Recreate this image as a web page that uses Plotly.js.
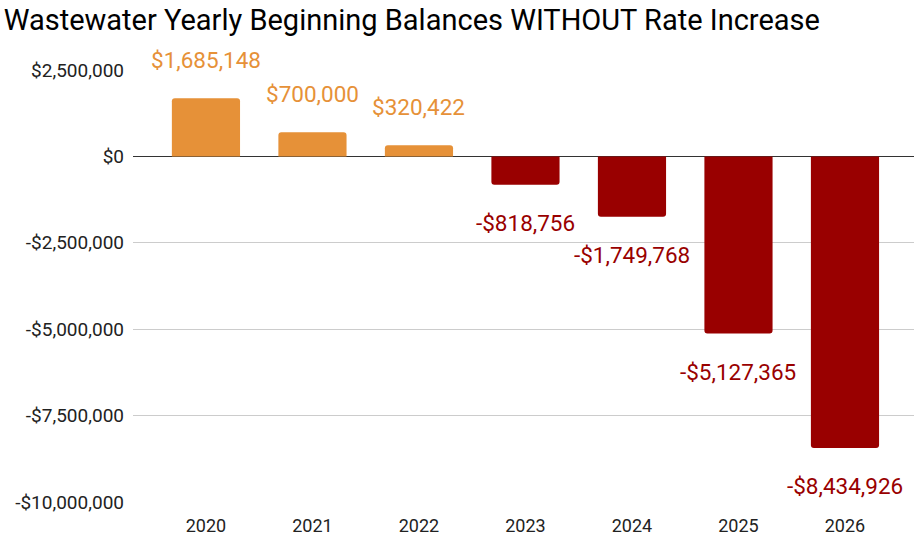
<!DOCTYPE html>
<html>
<head>
<meta charset="utf-8">
<script src="https://cdn.plot.ly/plotly-3.0.1.min.js"></script>
<style>html,body{margin:0;padding:0;background:#fff;}#chart{width:914px;height:541px;}</style>
</head>
<body>
<div id="chart"></div>
<script>
const years = ['2020', '2021', '2022', '2023', '2024', '2025', '2026'];
const balances = [1685148, 700000, 320422, -818756, -1749768, -5127365, -8434926];
const tickValues = [2500000, 0, -2500000, -5000000, -7500000, -10000000];
const tickLabels = ['$2,500,000', '$0', '-$2,500,000', '-$5,000,000', '-$7,500,000', '-$10,000,000'];

const ORANGE = '#e69138';
const RED = '#990000';
const colors = balances.map(v => v >= 0 ? ORANGE : RED);

function fmt(v) {
  const s = Math.abs(v).toString().replace(/\B(?=(\d{3})+(?!\d))/g, ',');
  return (v < 0 ? '-$' : '$') + s;
}

const annotations = years.map((y, i) => ({
  x: i, y: balances[i], xref: 'x', yref: 'y',
  text: fmt(balances[i]), showarrow: false,
  yshift: balances[i] >= 0 ? 38 : -38,
  font: {family: 'Roboto', size: 22.5, color: colors[i]},
  xanchor: 'center', yanchor: 'middle'
}));

const trace = {
  type: 'bar', x: years, y: balances,
  marker: {color: colors, cornerradius: 3},
  width: 0.64, hoverinfo: 'none'
};

const layout = {
  width: 914, height: 541,
  margin: {l: 133, r: 0, t: 70, b: 39},
  paper_bgcolor: '#fff', plot_bgcolor: '#fff',
  title: {text: 'Wastewater Yearly Beginning Balances WITHOUT Rate Increase',
    font: {family: 'Roboto', size: 29, color: '#000'},
    xref: 'container', x: 0.004, xanchor: 'left', yref: 'container', y: 0.963, yanchor: 'middle'},
  xaxis: {type: 'category', range: [-0.685, 6.648], showgrid: false, zeroline: false, showline: false,
    ticks: '', tickfont: {family: 'Roboto', size: 18, color: '#222'}, ticklabelstandoff: 11},
  yaxis: {range: [-10000000, 2500000], tickvals: tickValues, ticktext: tickLabels,
    showgrid: true, gridcolor: '#cccccc', gridwidth: 1,
    zeroline: true, zerolinecolor: '#333333', zerolinewidth: 1.3,
    ticks: '', tickfont: {family: 'Roboto', size: 19, color: '#222'}, ticklabelstandoff: 8},
  annotations: annotations,
  showlegend: false,
  bargap: 0.36
};

Plotly.newPlot('chart', [trace], layout, {displayModeBar: false, staticPlot: true});
</script>
</body>
</html>
